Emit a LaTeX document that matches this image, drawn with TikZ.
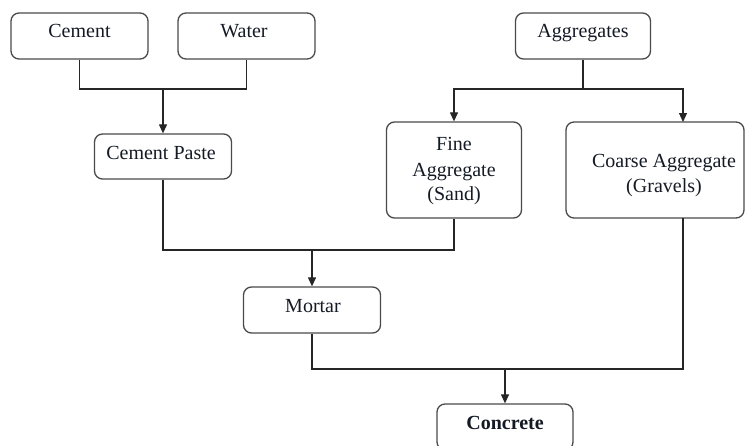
\documentclass[tikz,border=0pt]{standalone}
\usepackage{fontspec}
\setmainfont{Liberation Serif}
\usetikzlibrary{arrows.meta}
\definecolor{boxline}{HTML}{4A4A4A}
\definecolor{txt}{HTML}{141A24}
\begin{document}
\begin{tikzpicture}[x=1pt,y=-1pt,
  box/.style={draw=boxline,line width=1.3pt,rounded corners=8pt,inner sep=0pt},
  lbl/.style={anchor=base,inner sep=0pt,text=txt,font=\fontsize{20}{24}\selectfont},
  link/.style={draw=black!85,line width=1.2pt},
  arr/.style={link,-{Triangle[length=9pt,width=8pt]}}]
\useasboundingbox (0,0) rectangle (745,445);
% boxes
\node[box,minimum width=137pt,minimum height=46pt] (cement) at (79.5,36) {};
\node[box,minimum width=137pt,minimum height=46pt] (water) at (246.5,36) {};
\node[box,minimum width=135pt,minimum height=46pt] (agg) at (583,36) {};
\node[box,minimum width=137pt,minimum height=45pt] (paste) at (163,156.5) {};
\node[box,minimum width=135pt,minimum height=96pt] (fine) at (454,170) {};
\node[box,minimum width=178pt,minimum height=96pt] (coarse) at (655,170) {};
\node[box,minimum width=137pt,minimum height=46pt] (mortar) at (312,310) {};
\node[box,minimum width=136pt,minimum height=46pt] (concrete) at (505,427) {};
% texts
\node[lbl] (cementT) at (79.5,37.5) {Cement};
\node[lbl] (waterT) at (244,37.5) {Water};
\node[lbl] (aggT) at (583,37) {Aggregates};
\node[lbl] (pasteT) at (161,159) {Cement Paste};
\node[lbl] (fineT1) at (454,150) {Fine};
\node[lbl] (fineT2) at (454,176) {Aggregate};
\node[lbl] (fineT3) at (454,200) {(Sand)};
\node[lbl] (coarseT1) at (664,167) {Coarse Aggregate};
\node[lbl] (coarseT2) at (664,192) {(Gravels)};
\node[lbl] (mortarT) at (313,312.5) {Mortar};
\node[lbl] (concreteT) at (505,429) {\textbf{Concrete}};
% connectors
\coordinate (j1) at (163,89);
\coordinate (j2) at (312,250);
\coordinate (j3) at (583,89);
\coordinate (j4) at (505,369);
\coordinate (cn) at (683,122);
\coordinate (cs) at (683,218);
\draw[link] (cement.south) |- (j1) -| (water.south);
\draw[arr] (j1) -- (paste.north);
\draw[link] (paste.south) |- (j2) -| (fine.south);
\draw[arr] (j2) -- (mortar.north);
\draw[link] (agg.south) -- (j3);
\draw[arr] (j3) -| (fine.north);
\draw[arr] (j3) -| (cn);
\draw[link] (mortar.south) |- (j4);
\draw[link] (cs) |- (j4);
\draw[arr] (j4) -- (concrete.north);
\end{tikzpicture}
\end{document}
